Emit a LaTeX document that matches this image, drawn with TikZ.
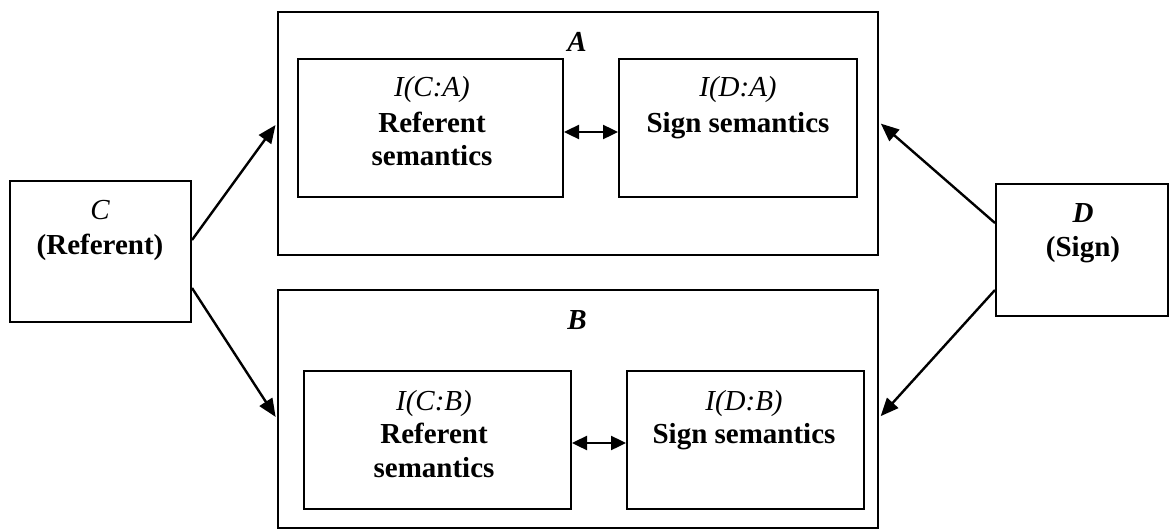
\documentclass[tikz,border=0pt]{standalone}
\usepackage{fontspec}
\setmainfont{Liberation Serif}
\usetikzlibrary{arrows.meta}
\begin{document}
\begin{tikzpicture}[x=1pt,y=-1pt,
  box/.style={draw,line width=2pt,inner sep=0pt},
  txt/.style={anchor=base,inner sep=0pt,font=\fontsize{29}{32}\selectfont},
  ttl/.style={txt,font=\fontsize{29}{32}\selectfont\bfseries},
  itl/.style={txt,font=\fontsize{29}{32}\selectfont\itshape},
  bil/.style={txt,font=\fontsize{29}{32}\selectfont\bfseries\itshape},
  conn/.style={line width=2.4pt,-{Triangle[length=18pt,width=15pt]},shorten >=2.5pt},
  dbl/.style={line width=2.4pt,{Triangle[length=15pt,width=14pt]}-{Triangle[length=15pt,width=14pt]}}]
\useasboundingbox (0,0) rectangle (1170,530);

% boxes
\node[box,minimum width=181pt,minimum height=141pt] (C) at (100.5,251.5) {};
\node[box,minimum width=172pt,minimum height=132pt] (D) at (1082,250) {};
\node[box,minimum width=600pt,minimum height=243pt] (A) at (578,133.5) {};
\node[box,minimum width=265pt,minimum height=138pt] (A1) at (430.5,128) {};
\node[box,minimum width=238pt,minimum height=138pt] (A2) at (738,128) {};
\node[box,minimum width=600pt,minimum height=238pt] (B) at (578,409) {};
\node[box,minimum width=267pt,minimum height=138pt] (B1) at (437.5,440) {};
\node[box,minimum width=237pt,minimum height=138pt] (B2) at (745.5,440) {};

% texts
\node[itl] (Ct1) at (100,219) {C};
\node[ttl] (Ct2) at (100,254) {(Referent)};
\node[bil] (Dt1) at (1083,222) {D};
\node[ttl] (Dt2) at (1083,256) {(Sign)};
\node[bil] (At) at (577,51) {A};
\node[bil] (Bt) at (577,329) {B};
\node[itl] (A1t1) at (432,96) {I(C:A)};
\node[ttl] (A1t2) at (432,132) {Referent};
\node[ttl] (A1t3) at (432,165) {semantics};
\node[itl] (A2t1) at (738,96) {I(D:A)};
\node[ttl] (A2t2) at (738,132) {Sign semantics};
\node[itl] (B1t1) at (434,410) {I(C:B)};
\node[ttl] (B1t2) at (434,443) {Referent};
\node[ttl] (B1t3) at (434,477) {semantics};
\node[itl] (B2t1) at (744,410) {I(D:B)};
\node[ttl] (B2t2) at (744,443) {Sign semantics};

% connectors
\draw[dbl] ([yshift=-4pt]A1.east) -- ([yshift=-4pt]A2.west);
\draw[dbl] ([yshift=-3pt]B1.east) -- ([yshift=-3pt]B2.west);
\draw[conn] ([yshift=11.5pt]C.east) -- ([yshift=10.5pt]A.west);
\draw[conn] ([yshift=-36.5pt]C.east) -- ([yshift=-10pt]B.west);
\draw[conn] ([yshift=27pt]D.west) -- ([yshift=11.5pt]A.east);
\draw[conn] ([yshift=-40pt]D.west) -- ([yshift=-9pt]B.east);
\end{tikzpicture}
\end{document}
